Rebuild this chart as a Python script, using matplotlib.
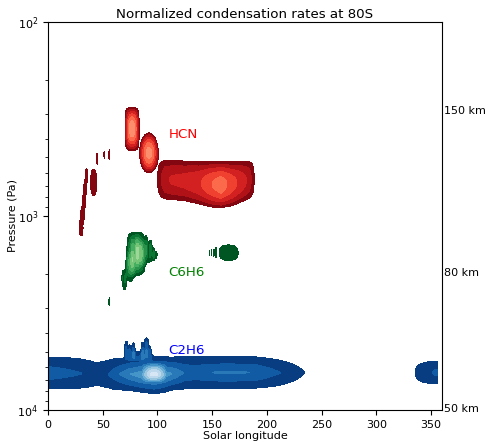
import numpy as np
import matplotlib
matplotlib.use('Agg')
import matplotlib.pyplot as plt

# Solar longitude / log10(pressure) grid
ls_grid = np.arange(0.0, 356.5, 0.25)
logp_grid = np.linspace(2.0, 4.0, 401)

# contour levels of the normalized rates
levels = [0.1, 0.2, 0.3, 0.4, 0.5, 0.6, 0.7, 0.8, 0.9, 1.0]

# HCN: compact cells (Ls, log10 p, half-width Ls, half-width log10 p, peak)
hcn_cells = [
    (76.8, 2.552, 7.0, 0.120, 0.68),
    (35.0, 2.790, 1.6, 0.050, 0.17),
    (34.0, 2.855, 2.0, 0.050, 0.17),
    (32.8, 2.925, 2.3, 0.050, 0.17),
    (31.5, 2.995, 2.6, 0.050, 0.17),
    (30.3, 3.065, 2.6, 0.060, 0.17),
    (41.7, 2.828, 4.0, 0.100, 0.18),
    (45.0, 2.705, 0.7, 0.045, 0.16),
    (51.5, 2.685, 0.7, 0.030, 0.16),
    (56.0, 2.685, 0.7, 0.040, 0.16),
]
# HCN: oval cell near Ls 92
hcn_ovals = [
    (92.2, 2.676, 9.2, 0.112, 0.64),
]
# HCN: main band between Ls 100 and 190
hcn_band_ls = [97.5, 101.5, 107, 113, 125, 138, 150, 158, 168, 178, 183, 187.0, 190.5]
hcn_band_peak = [0.0, 0.15, 0.28, 0.31, 0.33, 0.38, 0.50, 0.56, 0.45, 0.34, 0.28, 0.16, 0.0]
hcn_band_mid = [2.812, 2.812, 2.813, 2.815, 2.820, 2.830, 2.838, 2.840, 2.835, 2.822, 2.815, 2.812, 2.812]
hcn_band_half = [0.125, 0.125, 0.124, 0.122, 0.122, 0.126, 0.130, 0.130, 0.128, 0.122, 0.120, 0.120, 0.120]

# C6H6 cells
c6h6_cells = [
    (80.5, 3.195, 9.5, 0.125, 0.48),
    (75.0, 3.270, 5.0, 0.090, 0.22),
    (81.5, 3.190, 2.0, 0.100, 0.12),
    (77.0, 3.200, 1.2, 0.100, 0.08),
    (85.0, 3.200, 1.2, 0.080, 0.08),
    (90.0, 3.190, 10.0, 0.075, 0.18),
    (90.0, 3.150, 1.5, 0.080, 0.14),
    (93.5, 3.170, 1.2, 0.060, 0.12),
    (96.5, 3.200, 1.0, 0.035, 0.15),
    (99.0, 3.200, 1.0, 0.025, 0.14),
    (70.0, 3.330, 2.2, 0.070, 0.20),
    (68.0, 3.320, 0.8, 0.050, 0.15),
    (165.0, 3.190, 13.0, 0.060, 0.18),
    (147.5, 3.190, 0.5, 0.025, 0.14),
    (149.5, 3.190, 0.5, 0.030, 0.14),
    (151.5, 3.190, 0.5, 0.035, 0.14),
    (153.5, 3.190, 0.6, 0.035, 0.14),
    (56.0, 3.442, 0.6, 0.035, 0.16),
]

# C2H6: low band (tent profile across pressure)
c2h6_band_ls = [0, 15, 30, 45, 55, 65, 75, 87, 97, 105, 114, 124, 135, 145, 165, 190, 213, 235, 240]
c2h6_band_peak = [0.27, 0.24, 0.205, 0.16, 0.20, 0.30, 0.40, 0.48, 0.50, 0.46, 0.40, 0.30, 0.28, 0.30, 0.32, 0.30, 0.20, 0.10, 0.0]
c2h6_band_mid = [3.810, 3.810, 3.812, 3.815, 3.815, 3.815, 3.815, 3.818, 3.820, 3.818, 3.812, 3.808, 3.807, 3.807, 3.807, 3.807, 3.808, 3.808, 3.808]
c2h6_band_half = [0.130, 0.137, 0.146, 0.152, 0.140, 0.120, 0.113, 0.115, 0.120, 0.118, 0.112, 0.125, 0.125, 0.125, 0.120, 0.120, 0.125, 0.130, 0.130]
c2h6_cells = [
    (97.0, 3.808, 11.0, 0.050, 0.36),
    (84.0, 3.715, 13.0, 0.035, 0.13),
    (71.5, 3.690, 1.8, 0.060, 0.22),
    (74.5, 3.700, 1.6, 0.050, 0.20),
    (78.0, 3.695, 2.0, 0.055, 0.22),
    (86.5, 3.695, 1.8, 0.060, 0.22),
    (90.0, 3.680, 2.5, 0.065, 0.26),
    (93.0, 3.700, 1.5, 0.045, 0.18),
    (358.0, 3.807, 31.0, 0.081, 0.21),
]

LS, LP = np.meshgrid(ls_grid, logp_grid)


def cells_field(cells):
    z = np.zeros_like(LS)
    for ls0, lp0, a, b, amp in cells:
        fx = np.clip(1 - ((LS - ls0) / a) ** 2, 0, None)
        fy = np.clip(1 - ((LP - lp0) / b) ** 2, 0, None)
        z += amp * fx * fy
    return z


def ovals_field(cells):
    z = np.zeros_like(LS)
    for ls0, lp0, a, b, amp in cells:
        r2 = ((LS - ls0) / a) ** 2 + ((LP - lp0) / b) ** 2
        z += amp * np.clip(1 - r2, 0, None)
    return z


def band_field(ls_nodes, peak, mid, half, tent=False):
    pk = np.interp(ls_grid, ls_nodes, peak, left=0, right=0)
    c = np.interp(ls_grid, ls_nodes, mid)
    h = np.interp(ls_grid, ls_nodes, half)
    r = np.abs(LP - c[None, :]) / h[None, :]
    prof = 1 - r if tent else 1 - r ** 2
    return pk[None, :] * np.clip(prof, 0, None)


hcn = (cells_field(hcn_cells) + ovals_field(hcn_ovals)
       + band_field(hcn_band_ls, hcn_band_peak, hcn_band_mid, hcn_band_half))
c6h6 = cells_field(c6h6_cells)
c2h6 = cells_field(c2h6_cells) + band_field(c2h6_band_ls, c2h6_band_peak, c2h6_band_mid, c2h6_band_half, tent=True)

p_grid = 10 ** logp_grid

plt.rcParams['font.size'] = 8
fig = plt.figure(figsize=(4.88, 4.42), dpi=100)
ax = fig.add_axes([0.0984, 0.0724, 0.8075, 0.8785])

ax.contourf(ls_grid, p_grid, hcn, levels=levels, cmap='Reds_r')
ax.contourf(ls_grid, p_grid, c6h6, levels=levels, cmap='Greens_r')
ax.contourf(ls_grid, p_grid, c2h6, levels=levels, cmap='Blues_r')

ax.set_yscale('log')
ax.set_ylim(1e4, 1e2)
ax.set_xlim(0, 360)
ax.set_xticks([0, 50, 100, 150, 200, 250, 300, 350])
ax.set_xlabel('Solar longitude', labelpad=1)
ax.set_ylabel('Pressure (Pa)', labelpad=0)
ax.set_title('Normalized condensation rates at 80S', fontsize=9.6, pad=3)

ax.text(110, 380, 'HCN', color='red', fontsize=9.6, va='center')
ax.text(110, 1960, 'C6H6', color='green', fontsize=9.6, va='center')
ax.text(110, 4950, 'C2H6', color='blue', fontsize=9.6, va='center')

# altitude marks on the right
for p, lab in [(290, '150 km'), (1960, '80 km'), (9890, '50 km')]:
    ax.text(362, p, lab, va='center', ha='left', clip_on=False)

fig.savefig('out.png', dpi=100)
